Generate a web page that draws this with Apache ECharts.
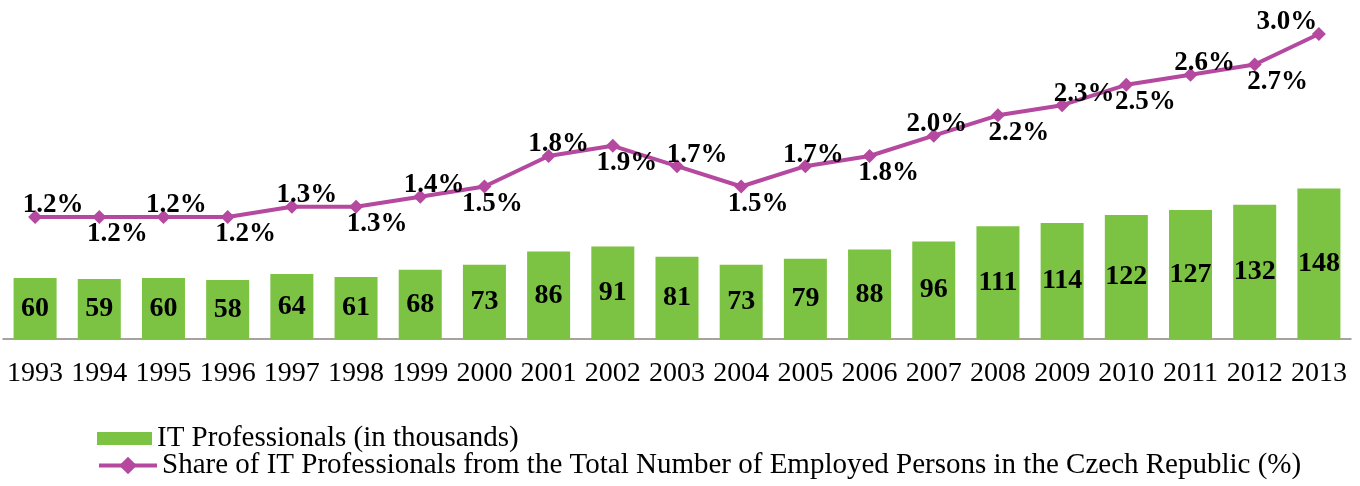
<!DOCTYPE html>
<html>
<head>
<meta charset="utf-8">
<script src="https://cdn.jsdelivr.net/npm/echarts@6/dist/echarts.min.js"></script>
<style>html,body{margin:0;padding:0;background:#fff}#c{width:1360px;height:486px}</style>
</head>
<body>
<div id="c"></div>
<script>
const years = ['1993','1994','1995','1996','1997','1998','1999','2000','2001','2002','2003','2004','2005','2006','2007','2008','2009','2010','2011','2012','2013'];
const itProfessionals = [60,59,60,58,64,61,68,73,86,91,81,73,79,88,96,111,114,122,127,132,148];
const itShare = [1.2,1.2,1.2,1.2,1.3,1.3,1.4,1.5,1.8,1.9,1.7,1.5,1.7,1.8,2.0,2.2,2.3,2.5,2.6,2.7,3.0];
const barName = 'IT Professionals (in thousands)';
const lineName = 'Share of IT Professionals from the Total Number of Employed Persons in the Czech Republic (%)';
// horizontal nudge of each percentage label (label styling, px)
const labelShiftX = [18,18,13,18,15,21,14,8,10,14,20,17,8,19,3,21,22,19,14,23,-32];

const serif = '"Liberation Serif", "DejaVu Serif", serif';
const lineData = itShare.map((v, i) => ({
  value: v,
  label: i % 2 === 0
    ? { position: 'top', distance: -9, offset: [labelShiftX[i], 0] }
    : { position: 'bottom', distance: -3, offset: [labelShiftX[i], 0] }
}));

const legendText = { fontFamily: serif, fontSize: 29, color: '#000', padding: [0, 0, 0, 0] };

const chart = echarts.init(document.getElementById('c'));
chart.setOption({
  animation: false,
  grid: { left: 3, right: 9, top: 34, bottom: 147, containLabel: false },
  legend: [
    {
      left: 97, top: 424, padding: 0, itemWidth: 55, itemHeight: 13, itemGap: 0,
      textStyle: legendText,
      data: [{ name: barName, icon: 'rect' }]
    },
    {
      left: 97, top: 451, padding: 0, itemWidth: 58, itemHeight: 22, itemGap: 0,
      textStyle: legendText,
      lineStyle: { width: 4 },
      data: [{ name: lineName }]
    }
  ],
  xAxis: {
    type: 'category', data: years,
    axisLine: { lineStyle: { color: '#8c8480', width: 1.5 } },
    axisTick: { length: 9, lineStyle: { color: '#8c8480', width: 1.5 } },
    axisLabel: { fontFamily: serif, fontSize: 28, color: '#000', margin: 21, interval: 0 }
  },
  yAxis: [
    { type: 'value', min: 0, max: 300, show: false, splitLine: { show: false } },
    { type: 'value', min: 0, max: 3, show: false, splitLine: { show: false } }
  ],
  series: [
    {
      name: barName, type: 'bar', data: itProfessionals, yAxisIndex: 0,
      barCategoryGap: '33%',
      itemStyle: { color: '#7cc243' },
      label: { show: true, position: 'inside', fontFamily: serif, fontWeight: 'bold', fontSize: 28, color: '#000' }
    },
    {
      name: lineName, type: 'line', data: lineData, yAxisIndex: 1,
      symbol: 'diamond', symbolSize: 14,
      lineStyle: { color: '#b5489f', width: 4 },
      itemStyle: { color: '#b5489f' },
      label: {
        show: true,
        fontFamily: serif, fontWeight: 'bold', fontSize: 27, color: '#000',
        formatter: p => p.value.toFixed(1) + '%'
      }
    }
  ]
});
</script>
</body>
</html>
